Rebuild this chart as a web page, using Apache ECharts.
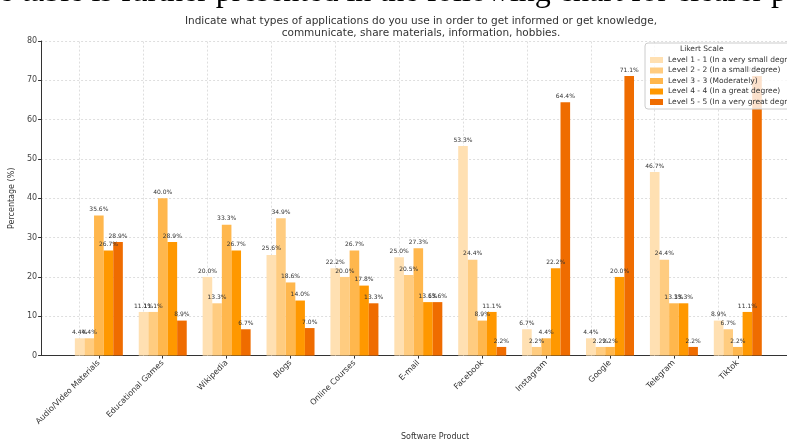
<!DOCTYPE html>
<html style="height: 100%">
<head>
    <meta charset="utf-8">
</head>
<body style="height: 100%; margin: 0; background: #fff">
<div id="container" style="width: 787px; height: 446px"></div>
<script type="text/javascript" src="https://cdn.jsdelivr.net/npm/echarts@6/dist/echarts.min.js"></script>
<script type="text/javascript">
// categories and values (percent)
var categories = ['Audio/Video Materials', 'Educational Games', 'Wikipedia', 'Blogs', 'Online Courses',
    'E-mail', 'Facebook', 'Instagram', 'Google', 'Telegram', 'Tiktok'];
var levelNames = ['Level 1 - 1 (In a very small degree)', 'Level 2 - 2 (In a small degree)',
    'Level 3 - 3 (Moderately)', 'Level 4 - 4 (In a great degree)', 'Level 5 - 5 (In a very great degree)'];
var level1 = [4.4, 11.1, 20.0, 25.6, 22.2, 25.0, 53.3, 6.7, 4.4, 46.7, 8.9];
var level2 = [4.4, 11.1, 13.3, 34.9, 20.0, 20.5, 24.4, 2.2, 2.2, 24.4, 6.7];
var level3 = [35.6, 40.0, 33.3, 18.6, 26.7, 27.3, 8.9, 4.4, 2.2, 13.3, 2.2];
var level4 = [26.7, 28.9, 26.7, 14.0, 17.8, 13.6, 11.1, 22.2, 20.0, 13.3, 11.1];
var level5 = [28.9, 8.9, 6.7, 7.0, 13.3, 13.6, 2.2, 64.4, 71.1, 2.2, 71.1];

var levels = [level1, level2, level3, level4, level5];
var colors = ['#FFE0B2', '#FFCC80', '#FFB74D', '#FF9800', '#EF6C00'];
var tickIdx = categories.map(function (c, i) { return i; });

var dom = document.getElementById("container");
var myChart = echarts.init(dom, null, {renderer: 'canvas'});

var gridStyle = {color: '#d6d6d6', width: 0.8, type: [2, 2]};

var series = levels.map(function (vals, k) {
    var s = {
        name: levelNames[k],
        type: 'bar',
        barWidth: 9.6,
        barGap: '0%',
        itemStyle: {color: colors[k]},
        label: {
            show: true,
            position: 'top',
            distance: 3,
            fontSize: 6,
            color: '#333',
            fontFamily: 'DejaVu Sans',
            formatter: function (p) { return p.value[1].toFixed(1) + '%'; }
        },
        data: vals.map(function (v, i) { return [i, v]; })
    };
    if (k === 0) {
        // vertical grid lines at the category ticks, under the bars
        s.markLine = {
            silent: true,
            z: 1,
            symbol: 'none',
            label: {show: false},
            lineStyle: gridStyle,
            animation: false,
            data: tickIdx.map(function (i) { return {xAxis: i}; })
        };
    }
    return s;
});

option = {
    backgroundColor: '#fff',
    animation: false,
    title: {
        text: 'Indicate what types of applications do you use in order to get informed or get knowledge,\ncommunicate, share materials, information, hobbies.',
        left: 416,
        top: 10,
        textAlign: 'center',
        textStyle: {
            fontSize: 10.5,
            lineHeight: 12,
            fontWeight: 'normal',
            color: '#333',
            fontFamily: 'DejaVu Sans'
        }
    },
    graphic: [
        {
            type: 'text',
            left: -1,
            top: -23,
            silent: true,
            style: {
                text: 'e table is further presented in the following chart for clearer p',
                font: '32px "Liberation Serif"',
                fill: '#000'
            }
        },
        {
            type: 'text',
            left: 680,
            top: 45,
            z: 100,
            style: {
                text: 'Likert Scale',
                font: '7.5px "DejaVu Sans"',
                fill: '#333'
            }
        }
    ],
    legend: {
        orient: 'vertical',
        left: 645,
        top: 43,
        padding: [13, 30, 3, 5],
        itemWidth: 13,
        itemHeight: 6,
        itemGap: 2.5,
        icon: 'rect',
        backgroundColor: 'rgba(255,255,255,0.8)',
        borderColor: '#ccc',
        borderWidth: 1,
        borderRadius: 3,
        textStyle: {fontSize: 7.5, lineHeight: 8, color: '#333', fontFamily: 'DejaVu Sans'},
        data: levelNames
    },
    grid: {left: 38, right: 0, top: 41, bottom: 81},
    xAxis: {
        type: 'value',
        min: -0.904,
        max: 10.77,
        name: 'Software Product',
        nameLocation: 'middle',
        nameGap: 73,
        nameTextStyle: {fontSize: 8, color: '#333', fontFamily: 'DejaVu Sans', padding: [0, 0, 0, 42]},
        axisLine: {onZero: false, lineStyle: {color: '#333', width: 1}},
        axisTick: {show: true, length: 3, customValues: tickIdx, lineStyle: {color: '#333'}},
        axisLabel: {
            customValues: tickIdx,
            rotate: 45,
            fontSize: 8,
            color: '#333',
            margin: 6,
            fontFamily: 'DejaVu Sans',
            formatter: function (v) { return categories[Math.round(v)] || ''; }
        },
        splitLine: {show: false}
    },
    yAxis: {
        type: 'value',
        min: 0,
        max: 80,
        interval: 10,
        name: 'Percentage (%)',
        nameLocation: 'middle',
        nameGap: 18,
        nameTextStyle: {fontSize: 8, color: '#333', fontFamily: 'DejaVu Sans'},
        axisLine: {show: true, onZero: false, lineStyle: {color: '#333', width: 1}},
        axisTick: {show: true, length: 3, lineStyle: {color: '#333'}},
        axisLabel: {fontSize: 8, color: '#444', margin: 4, fontFamily: 'DejaVu Sans'},
        splitLine: {show: true, lineStyle: gridStyle}
    },
    series: series
};

myChart.setOption(option);
</script>
</body>
</html>
